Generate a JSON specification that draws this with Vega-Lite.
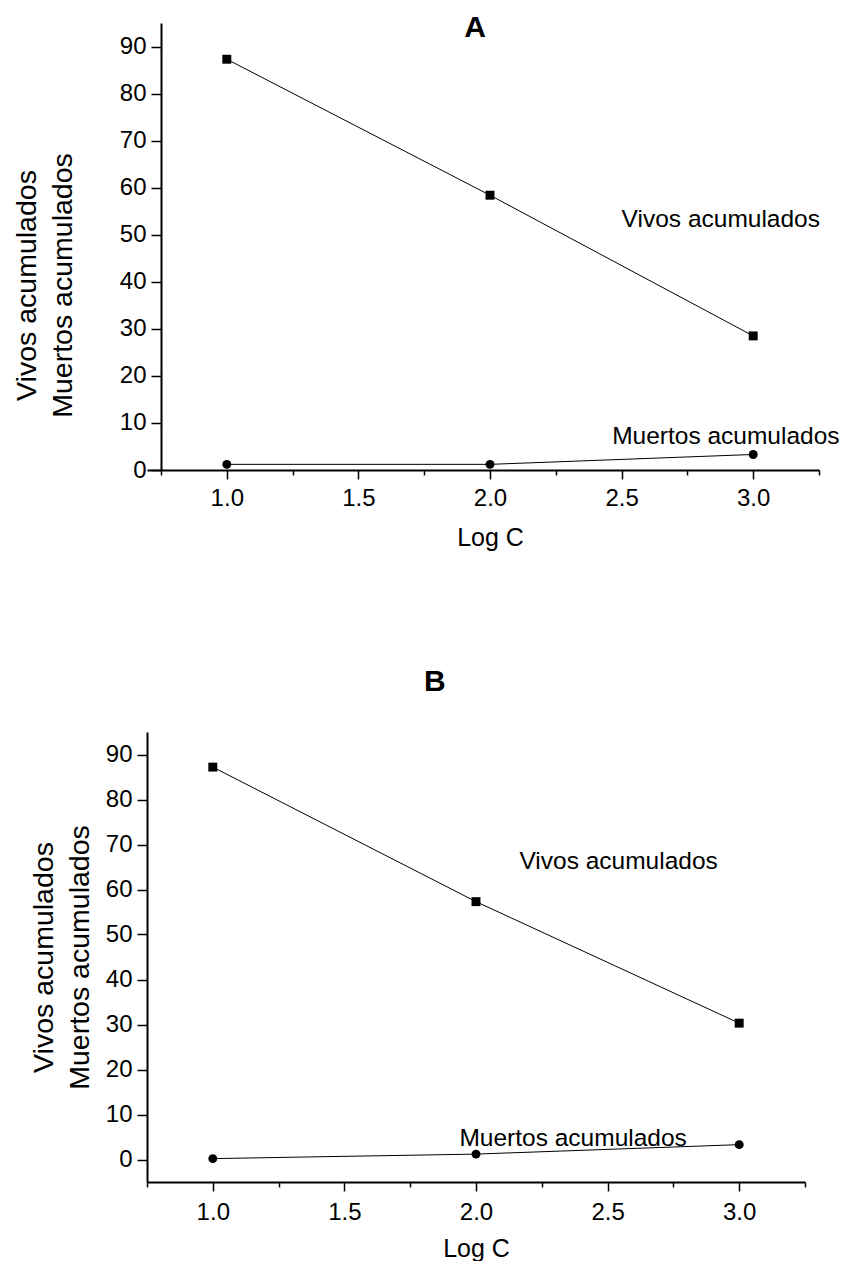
{
  "$schema": "https://vega.github.io/schema/vega-lite/v6.json",
  "background": "white",
  "padding": {"left": 12, "top": 12, "right": 0, "bottom": 0},
  "config": {
    "view": {"stroke": null},
    "font": "Liberation Sans",
    "axis": {
      "domainColor": "black",
      "domainWidth": 2,
      "tickColor": "black",
      "tickWidth": 1.5,
      "labelColor": "black",
      "labelFont": "Liberation Sans",
      "labelFontSize": 24,
      "labelOverlap": false,
      "titleColor": "black",
      "titleFont": "Liberation Sans",
      "titleFontWeight": "normal",
      "grid": false
    }
  },
  "datasets": {
    "panelA": [
      {"logc": 1, "value": 87.3, "series": "Vivos"},
      {"logc": 2, "value": 58.4, "series": "Vivos"},
      {"logc": 3, "value": 28.5, "series": "Vivos"},
      {"logc": 1, "value": 1.2, "series": "Muertos"},
      {"logc": 2, "value": 1.2, "series": "Muertos"},
      {"logc": 3, "value": 3.3, "series": "Muertos"}
    ],
    "panelB": [
      {"logc": 1, "value": 87.2, "series": "Vivos"},
      {"logc": 2, "value": 57.3, "series": "Vivos"},
      {"logc": 3, "value": 30.3, "series": "Vivos"},
      {"logc": 1, "value": 0.2, "series": "Muertos"},
      {"logc": 2, "value": 1.2, "series": "Muertos"},
      {"logc": 3, "value": 3.3, "series": "Muertos"}
    ],
    "labelsA": [
      {"logc": 2.5, "value": 53.2, "label": "Vivos acumulados"},
      {"logc": 2.464, "value": 7.0, "label": "Muertos acumulados"}
    ],
    "labelsB": [
      {"logc": 2.165, "value": 66.1, "label": "Vivos acumulados"},
      {"logc": 1.937, "value": 4.5, "label": "Muertos acumulados"}
    ],
    "headA": [{"logc": 1.943, "value": 94.0, "label": "A"}],
    "headB": [{"logc": 1.844, "value": 106.2, "label": "B"}]
  },
  "vconcat": [
    {
      "width": 672,
      "height": 447,
      "layer": [
        {
          "data": {"name": "panelA"},
          "mark": {"type": "line", "color": "black", "strokeWidth": 1},
          "encoding": {
            "x": {"field": "logc", "type": "quantitative", "scale": {"domain": [0.6968, 3.25], "nice": false, "zero": false},
              "axis": {"title": "Log C", "titleFontSize": 25, "titlePadding": 15, "titleX": 343,
                "values": [0.75, 1, 1.25, 1.5, 1.75, 2, 2.25, 2.5, 2.75, 3, 3.25],
                "labelExpr": "(datum.value % 0.5 === 0) ? format(datum.value, '.1f') : ''",
                "labelOverlap": false,
                "tickSize": {"condition": {"test": "datum.value % 0.5 === 0", "value": 9}, "value": 5},
                "labelPadding": 7}},
            "y": {"field": "value", "type": "quantitative", "scale": {"domain": [0, 95], "nice": false, "zero": false},
              "axis": {"title": ["Vivos acumulados", "Muertos acumulados"], "titleFontSize": 28.5, "titleLineHeight": 36,
                "titlePadding": 42, "titleY": 262, "offset": -14,
                "values": [0, 5, 10, 15, 20, 25, 30, 35, 40, 45, 50, 55, 60, 65, 70, 75, 80, 85, 90, 95],
                "labelExpr": "(datum.value % 10 === 0 && datum.value <= 90) ? datum.label : ''",
                "labelOverlap": false,
                "tickSize": {"condition": {"test": "datum.value % 10 === 0", "value": 10}, "value": 5},
                "labelPadding": 5}},
            "detail": {"field": "series"}
          }
        },
        {
          "data": {"name": "panelA"},
          "mark": {"type": "point", "filled": true, "color": "black", "opacity": 1, "size": 80},
          "encoding": {
            "x": {"field": "logc", "type": "quantitative"},
            "y": {"field": "value", "type": "quantitative"},
            "shape": {"field": "series", "type": "nominal", "scale": {"domain": ["Vivos", "Muertos"], "range": ["square", "circle"]}, "legend": null}
          }
        },
        {
          "data": {"name": "labelsA"},
          "mark": {"type": "text", "align": "left", "baseline": "middle", "fontSize": 24.5, "color": "black", "font": "Liberation Sans"},
          "encoding": {
            "x": {"field": "logc", "type": "quantitative"},
            "y": {"field": "value", "type": "quantitative"},
            "text": {"field": "label"}
          }
        },
        {
          "data": {"name": "headA"},
          "mark": {"type": "text", "align": "center", "baseline": "middle", "fontSize": 30, "fontWeight": "bold", "color": "black", "font": "Liberation Sans"},
          "encoding": {
            "x": {"field": "logc", "type": "quantitative"},
            "y": {"field": "value", "type": "quantitative"},
            "text": {"field": "label"}
          }
        }
      ]
    },
    {
      "width": 658,
      "height": 450,
      "layer": [
        {
          "data": {"name": "panelB"},
          "mark": {"type": "line", "color": "black", "strokeWidth": 1},
          "encoding": {
            "x": {"field": "logc", "type": "quantitative", "scale": {"domain": [0.75, 3.25], "nice": false, "zero": false},
              "axis": {"title": "Log C", "titleFontSize": 25, "titlePadding": 12, "values": [0.75, 1, 1.25, 1.5, 1.75, 2, 2.25, 2.5, 2.75, 3, 3.25],
                "labelExpr": "(datum.value % 0.5 === 0) ? format(datum.value, '.1f') : ''",
                "labelOverlap": false,
                "tickSize": {"condition": {"test": "datum.value % 0.5 === 0", "value": 9}, "value": 5},
                "labelPadding": 9}},
            "y": {"field": "value", "type": "quantitative", "scale": {"domain": [-5, 95], "nice": false, "zero": false},
              "axis": {"title": ["Vivos acumulados", "Muertos acumulados"], "titleFontSize": 28.5, "titleLineHeight": 36,
                "titlePadding": 11,
                "values": [0, 5, 10, 15, 20, 25, 30, 35, 40, 45, 50, 55, 60, 65, 70, 75, 80, 85, 90, 95],
                "labelExpr": "(datum.value % 10 === 0 && datum.value <= 90) ? datum.label : ''",
                "labelOverlap": false,
                "tickSize": {"condition": {"test": "datum.value % 10 === 0", "value": 10}, "value": 5},
                "labelPadding": 5}},
            "detail": {"field": "series"}
          }
        },
        {
          "data": {"name": "panelB"},
          "mark": {"type": "point", "filled": true, "color": "black", "opacity": 1, "size": 80},
          "encoding": {
            "x": {"field": "logc", "type": "quantitative"},
            "y": {"field": "value", "type": "quantitative"},
            "shape": {"field": "series", "type": "nominal", "scale": {"domain": ["Vivos", "Muertos"], "range": ["square", "circle"]}, "legend": null}
          }
        },
        {
          "data": {"name": "labelsB"},
          "mark": {"type": "text", "align": "left", "baseline": "middle", "fontSize": 24.5, "color": "black", "font": "Liberation Sans"},
          "encoding": {
            "x": {"field": "logc", "type": "quantitative"},
            "y": {"field": "value", "type": "quantitative"},
            "text": {"field": "label"}
          }
        },
        {
          "data": {"name": "headB"},
          "mark": {"type": "text", "align": "center", "baseline": "middle", "fontSize": 30, "fontWeight": "bold", "color": "black", "font": "Liberation Sans"},
          "encoding": {
            "x": {"field": "logc", "type": "quantitative"},
            "y": {"field": "value", "type": "quantitative"},
            "text": {"field": "label"}
          }
        }
      ]
    }
  ],
  "spacing": 116
}
